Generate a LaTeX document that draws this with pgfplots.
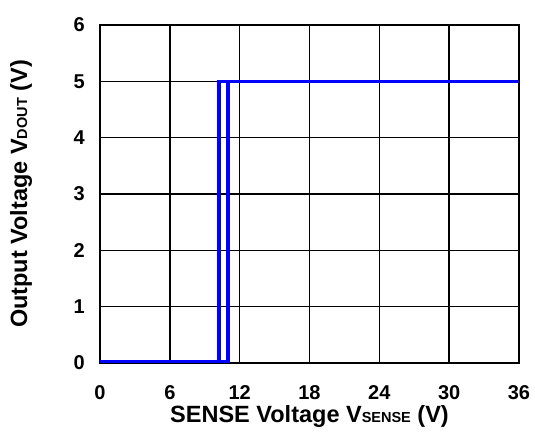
\documentclass[border=0pt]{standalone}
\usepackage{pgfplots}
\pgfplotsset{compat=1.18}
\usepackage{fontspec}
\setmainfont{Liberation Sans}
\begin{document}
\begin{tikzpicture}
\begin{axis}[
    scale only axis,
    width=419pt,
    height=338pt,
    xmin=0, xmax=36,
    ymin=0, ymax=6,
    xtick={0,6,...,36},
    ytick={0,1,...,6},
    grid=major,
    major grid style={black, line width=1.4pt},
    axis line style={black, line width=1.4pt},
    tick style={draw=none},
    /pgf/number format/assume math mode=true,
    tick label style={font=\fontsize{20}{23}\selectfont\bfseries, inner sep=0pt},
    xticklabel style={anchor=north, yshift=-22pt},
    yticklabel style={anchor=east, xshift=-15pt},
    xlabel={SENSE Voltage V{\fontsize{14.5}{16}\selectfont SENSE} (V)},
    ylabel={Output Voltage V{\fontsize{14.5}{16}\selectfont DOUT} (V)},
    label style={font=\fontsize{23.5}{26}\selectfont\bfseries, inner sep=0pt},
    xlabel style={at={(axis description cs:0.5,-0.124)}, anchor=north},
    ylabel style={at={(axis description cs:-0.2148,0.5)}, anchor=north},
    clip=false,
]
\addplot[blue, line width=3.6pt, line join=miter] coordinates {(0,0.03) (11,0.03) (11,5) (36,5)};
\addplot[blue, line width=3.6pt, line join=miter] coordinates {(0,0.03) (10.2,0.03) (10.2,5) (11,5)};
\coordinate (sw) at (rel axis cs:0,0);
\coordinate (ne) at (rel axis cs:1,1);
\end{axis}
\pgfresetboundingbox
\path[use as bounding box] ([xshift=-100pt,yshift=-77pt]sw) rectangle ([xshift=16pt,yshift=25pt]ne);
\end{tikzpicture}
\end{document}
